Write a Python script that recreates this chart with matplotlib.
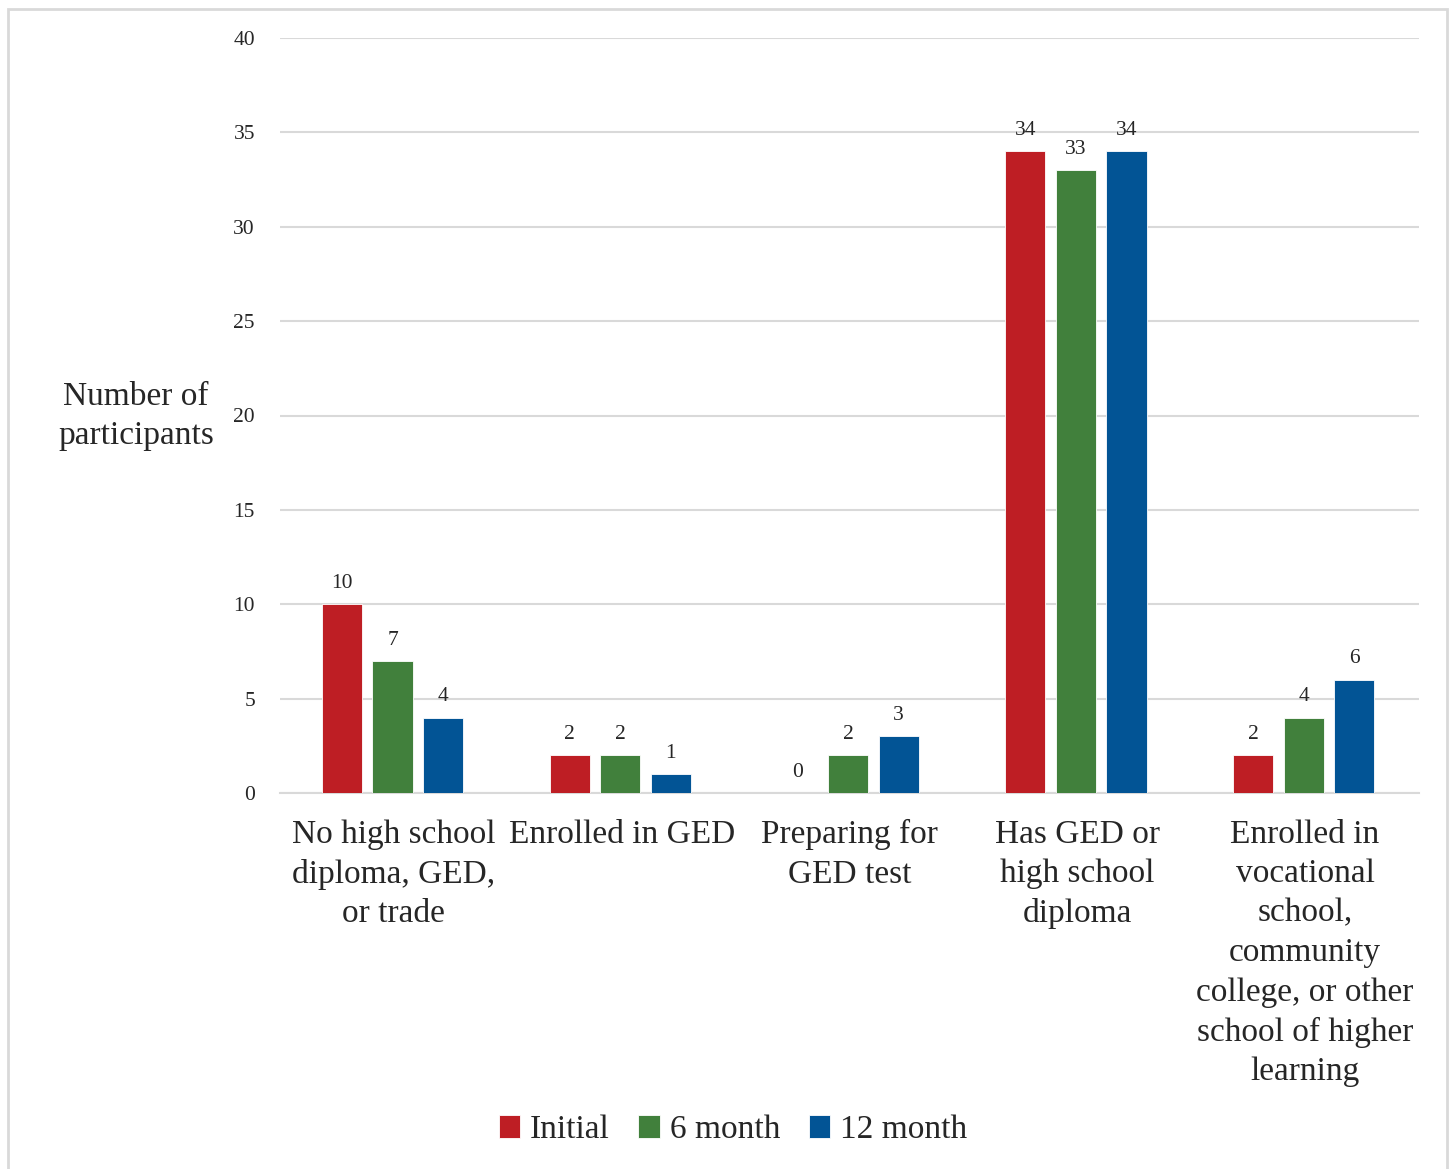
import matplotlib
matplotlib.use("Agg")
import matplotlib.pyplot as plt
from matplotlib.patches import Rectangle
import numpy as np

categories = [
    "No high school\ndiploma, GED,\nor trade",
    "Enrolled in GED",
    "Preparing for\nGED test",
    "Has GED or\nhigh school\ndiploma",
    "Enrolled in\nvocational\nschool,\ncommunity\ncollege, or other\nschool of higher\nlearning",
]
series_names = ["Initial", "6 month", "12 month"]
initial = [10, 2, 0, 34, 2]
six_month = [7, 2, 2, 33, 4]
twelve_month = [4, 1, 3, 34, 6]
colors = ["#BE1E24", "#41803C", "#025495"]
yticks = [0, 5, 10, 15, 20, 25, 30, 35, 40]

plt.rcParams["font.family"] = ["Liberation Serif", "DejaVu Serif"]
text_color = "#262626"

W, H = 1452, 1169
fig = plt.figure(figsize=(W / 100, H / 100), dpi=100)
ax = fig.add_axes([280 / W, 1 - 793 / H, (1419 - 280) / W, (793 - 38) / H])

# outer chart border
fig.patches.append(Rectangle((8 / W, -0.01), (1447 - 8) / W, (H - 9) / H + 0.01,
                             transform=fig.transFigure, fill=False,
                             edgecolor="#d9d9d9", linewidth=2))

x = np.arange(len(categories))
width = 0.176
offset = 0.222
for i, (vals, name, c) in enumerate(zip([initial, six_month, twelve_month], series_names, colors)):
    pos = x + (i - 1) * offset - 0.006
    ax.bar(pos, vals, width, color=c, label=name, edgecolor="white",
           linewidth=0.6, zorder=3)
    for xp, v in zip(pos, vals):
        ax.text(xp, v + 0.6, str(v), ha="center", va="bottom", fontsize=15.5,
                color=text_color)

ax.set_xlim(-0.5, len(categories) - 0.5)
ax.set_ylim(0, 40)
ax.set_yticks(yticks)
ax.set_yticklabels([str(t) for t in yticks], fontsize=15.5, color=text_color)
ax.grid(axis="y", color="#d9d9d9", linewidth=1.5, zorder=0)
for s in ["top", "right", "left"]:
    ax.spines[s].set_visible(False)
ax.spines["bottom"].set_color("#d9d9d9")
ax.spines["bottom"].set_linewidth(1.5)
ax.tick_params(axis="y", length=0, pad=18)
ax.tick_params(axis="x", length=0, pad=19)
ax.set_xticks(x)
ax.set_xticklabels(categories, fontsize=24, color=text_color, linespacing=1.38,
                   va="top")

fig.text(136 / W, 1 - 416 / H, "Number of\nparticipants", ha="center", va="center",
         fontsize=24, color=text_color, linespacing=1.38)

leg = fig.legend(loc="center", bbox_to_anchor=(733 / W, 1 - 1130 / H), ncol=3,
                 frameon=False, fontsize=24, handlelength=0.65, handleheight=0.65,
                 handletextpad=0.3, columnspacing=0.85)
for t in leg.get_texts():
    t.set_color(text_color)

fig.savefig("out.png", dpi=100, facecolor="white")
